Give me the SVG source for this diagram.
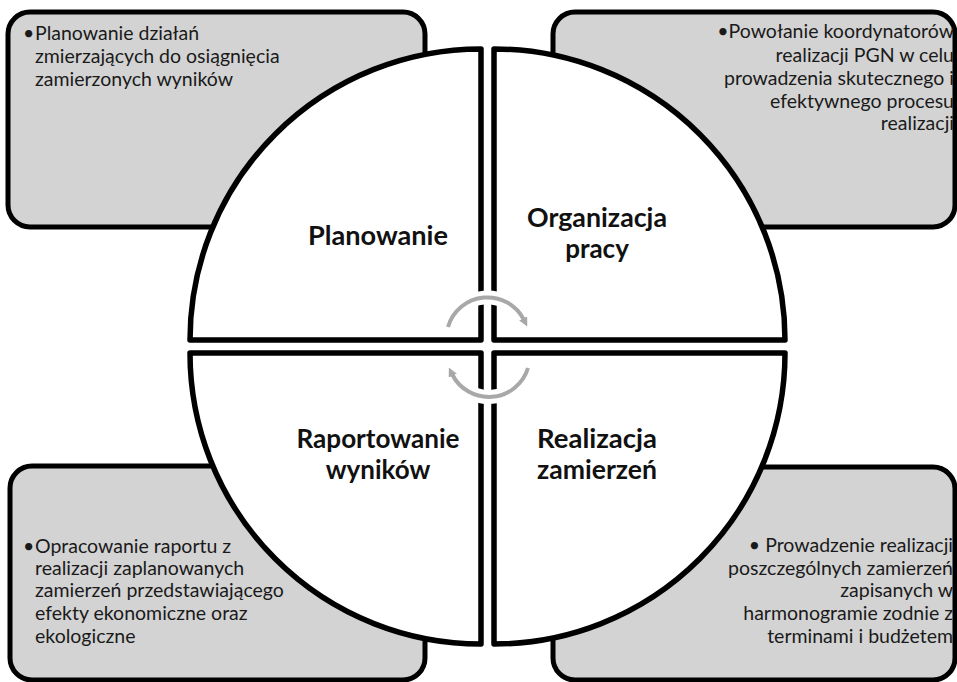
<svg xmlns="http://www.w3.org/2000/svg" width="957" height="682" viewBox="0 0 957 682">
<defs>
<style>
.box{fill:#d3d3d3;stroke:#000;stroke-width:5;}
.quad{fill:#fff;stroke:#000;stroke-width:5.5;stroke-linejoin:round;}
.t{font-family:Lato,"Liberation Sans",sans-serif;font-size:19.5px;fill:#1a1a1a;}
.r{text-anchor:end;}
.lbl{font-family:Lato,"Liberation Sans",sans-serif;font-size:26px;font-weight:bold;fill:#111;text-anchor:middle;}
.halo{fill:none;stroke:#fff;stroke-width:14;}
.arc{fill:none;stroke:#a8a8a8;stroke-width:4;marker-end:url(#ah);}
</style>
<marker id="ah" viewBox="0 0 10 10" refX="2" refY="5" markerWidth="9" markerHeight="9" markerUnits="userSpaceOnUse" orient="auto">
<path d="M0,0 L10,5 L0,10 z" fill="#a8a8a8"/>
</marker>
</defs>
<g id="box-planowanie">
<rect class="box" x="8" y="12" width="417" height="215" rx="22"/>
<text class="t"><tspan x="23" y="40">•</tspan><tspan x="35" y="40">Planowanie działań</tspan><tspan x="35" y="63">zmierzających do osiągnięcia</tspan><tspan x="35" y="86">zamierzonych wyników</tspan></text>
</g>
<g id="box-organizacja">
<rect class="box" x="553" y="12" width="402" height="215" rx="22"/>
<text class="t r"><tspan x="954" y="38">•Powołanie koordynatorów</tspan><tspan x="954" y="62">realizacji PGN w celu</tspan><tspan x="954" y="85">prowadzenia skutecznego i</tspan><tspan x="954" y="108">efektywnego procesu</tspan><tspan x="954" y="130">realizacji</tspan></text>
</g>
<g id="box-raportowanie">
<rect class="box" x="10" y="466" width="415" height="214" rx="22"/>
<text class="t"><tspan x="23" y="553">•</tspan><tspan x="35" y="553">Opracowanie raportu z</tspan><tspan x="35" y="575">realizacji zaplanowanych</tspan><tspan x="35" y="597">zamierzeń przedstawiającego</tspan><tspan x="35" y="620">efekty ekonomiczne oraz</tspan><tspan x="35" y="643">ekologiczne</tspan></text>
</g>
<g id="box-realizacja">
<rect class="box" x="553" y="467" width="402" height="213" rx="22"/>
<text class="t r"><tspan x="953" y="552">• Prowadzenie realizacji</tspan><tspan x="953" y="575">poszczególnych zamierzeń</tspan><tspan x="953" y="597">zapisanych w</tspan><tspan x="953" y="620">harmonogramie zodnie z</tspan><tspan x="953" y="643">terminami i budżetem</tspan></text>
</g>
<g id="planowanie">
<path class="quad" d="M481,340 L190,340 A291,291 0 0 1 481,49 Z"/>
<text class="lbl" x="378" y="245" textLength="140" lengthAdjust="spacingAndGlyphs">Planowanie</text>
</g>
<g id="organizacja-pracy">
<path class="quad" d="M494,340 L494,49 A291,291 0 0 1 785,340 Z"/>
<text class="lbl" x="597" y="227" textLength="140" lengthAdjust="spacingAndGlyphs">Organizacja</text>
<text class="lbl" x="597" y="258">pracy</text>
</g>
<g id="raportowanie-wynikow">
<path class="quad" d="M481,353 L481,644 A291,291 0 0 1 190,353 Z"/>
<text class="lbl" x="378" y="448" textLength="163" lengthAdjust="spacingAndGlyphs">Raportowanie</text>
<text class="lbl" x="378" y="479">wyników</text>
</g>
<g id="realizacja-zamierzen">
<path class="quad" d="M494,353 L785,353 A291,291 0 0 1 494,644 Z"/>
<text class="lbl" x="597" y="448" textLength="120" lengthAdjust="spacingAndGlyphs">Realizacja</text>
<text class="lbl" x="597" y="479" textLength="120" lengthAdjust="spacingAndGlyphs">zamierzeń</text>
</g>
<g id="connectors">
<path class="halo" d="M448,327 A41,41 0 0 1 524,320"/>
<path class="halo" d="M528,368 A41,41 0 0 1 452,374"/>
<path class="arc" d="M448,327 A41,41 0 0 1 524,320"/>
<path class="arc" d="M528,368 A41,41 0 0 1 452,374"/>
</g>
</svg>
